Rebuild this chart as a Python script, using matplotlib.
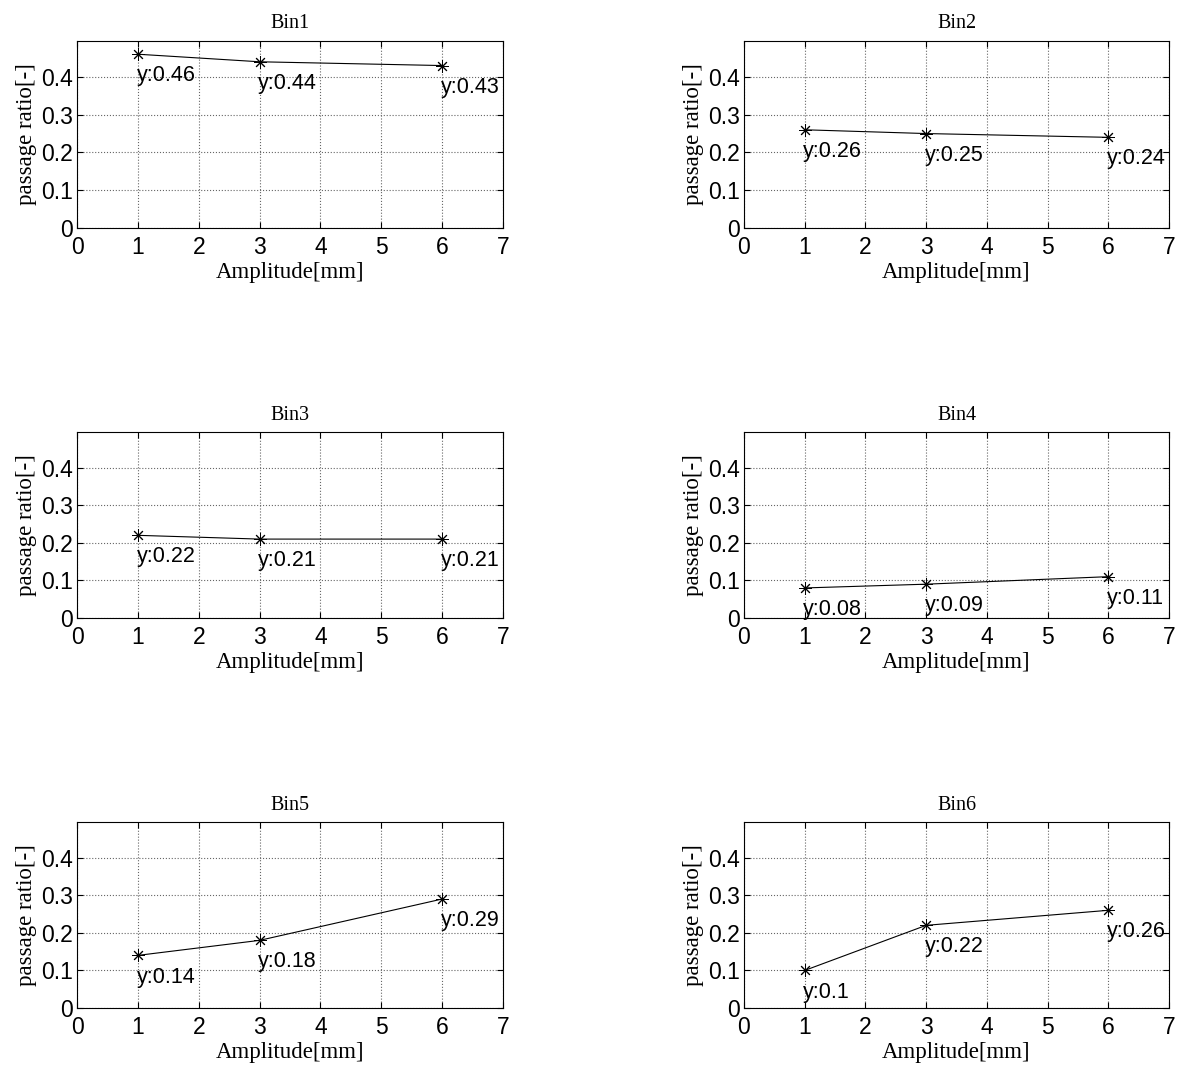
import numpy as np
import matplotlib.pyplot as plt

amplitude = [1, 3, 6]
bin_names = ['Bin1', 'Bin2', 'Bin3', 'Bin4', 'Bin5', 'Bin6']
bin1 = [0.46, 0.44, 0.43]
bin2 = [0.26, 0.25, 0.24]
bin3 = [0.22, 0.21, 0.21]
bin4 = [0.08, 0.09, 0.11]
bin5 = [0.14, 0.18, 0.29]
bin6 = [0.10, 0.22, 0.26]
all_bins = [bin1, bin2, bin3, bin4, bin5, bin6]

W, H = 1185, 1070
fig = plt.figure(figsize=(W / 100, H / 100), dpi=100)

# axes boxes in pixels (left, top, right, bottom)
col_x = [(77, 503), (744, 1169)]
row_y = [(41, 228), (432, 618), (822, 1008)]

serif = 'Liberation Serif'
sans = 'Liberation Sans'

for i, (name, vals) in enumerate(zip(bin_names, all_bins)):
    r, c = divmod(i, 2)
    x0, x1 = col_x[c]
    y0, y1 = row_y[r]
    ax = fig.add_axes([x0 / W, 1 - y1 / H, (x1 - x0) / W, (y1 - y0) / H])
    ax.plot(amplitude, vals, color='black', linewidth=0.8,
            marker=(8, 2, 0), markersize=9, markeredgewidth=0.7)
    for xv, yv in zip(amplitude, vals):
        ax.annotate('y:%g' % yv, (xv, yv), xytext=(-1, -8),
                    textcoords='offset points', ha='left', va='top',
                    fontsize=15.5, family=sans)
    ax.set_xlim(0, 7)
    ax.set_ylim(0, 0.495)
    ax.set_xticks(range(0, 8))
    ax.set_yticks([0, 0.1, 0.2, 0.3, 0.4])
    ax.set_yticklabels(['0', '0.1', '0.2', '0.3', '0.4'])
    ax.tick_params(direction='in', top=True, right=True, length=4,
                   width=0.8, labelsize=16.5)
    ax.tick_params(axis='x', pad=6)
    ax.tick_params(axis='y', pad=3)
    for lab in ax.get_xticklabels() + ax.get_yticklabels():
        lab.set_family(sans)
    ax.grid(True, linestyle=':', color='#666666', linewidth=0.8)
    ax.set_axisbelow(True)
    for sp in ax.spines.values():
        sp.set_linewidth(0.8)
    ax.set_title(name, fontsize=14.5, family=serif, pad=9)
    ax.set_xlabel('Amplitude[mm]', fontsize=16.5, family=serif, labelpad=2)
    ax.set_ylabel('passage ratio[-]', fontsize=16.5, family=serif, labelpad=3)

fig.savefig('out.png', dpi=100)
